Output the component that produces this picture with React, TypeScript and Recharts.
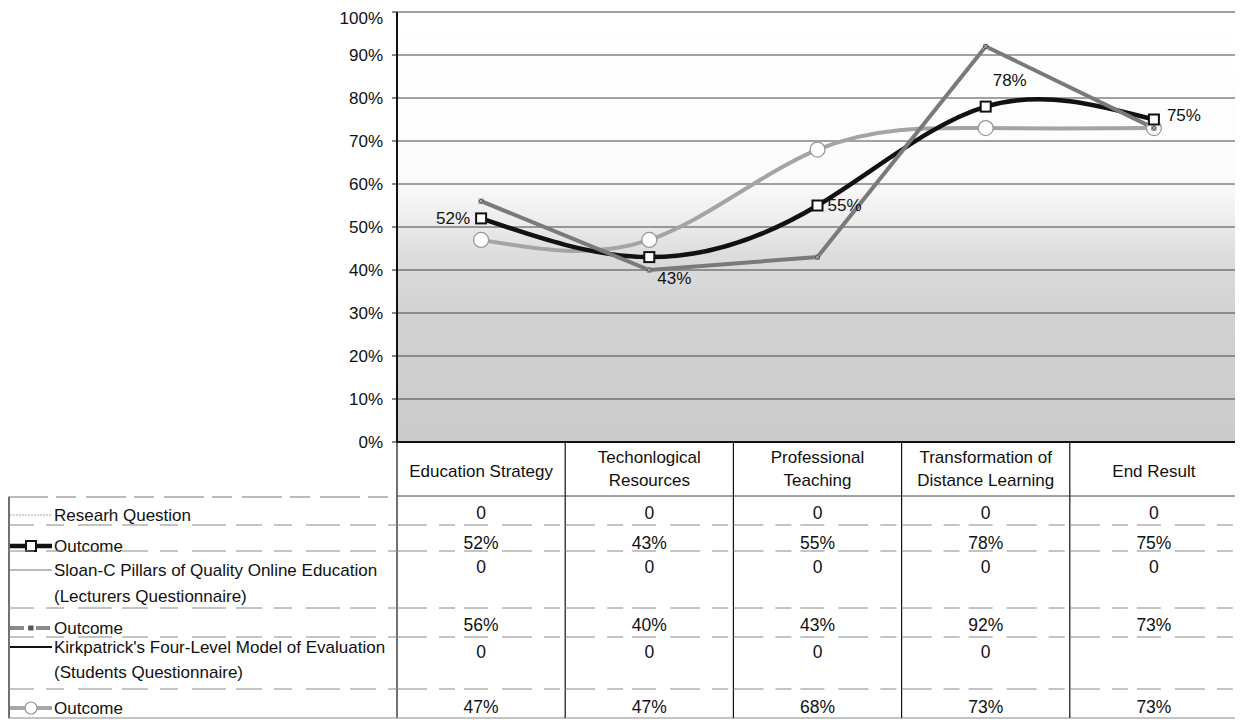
import React from "react";
import { LineChart, Line, XAxis, YAxis, CartesianGrid, LabelList } from "recharts";

// ---------- data ----------
const categories = [
  "Education Strategy",
  "Techonlogical Resources",
  "Professional Teaching",
  "Transformation of Distance Learning",
  "End Result",
];
const categoryHeaderLines = [
  ["Education Strategy"],
  ["Techonlogical", "Resources"],
  ["Professional", "Teaching"],
  ["Transformation of", "Distance Learning"],
  ["End Result"],
];
const researchQuestion = [0, 0, 0, 0, 0];
const outcomeResearch = [0.52, 0.43, 0.55, 0.78, 0.75];
const sloanC = [0, 0, 0, 0, 0];
const outcomeLecturers = [0.56, 0.4, 0.43, 0.92, 0.73];
const kirkpatrick: (number | null)[] = [0, 0, 0, 0, null];
const outcomeStudents = [0.47, 0.47, 0.68, 0.73, 0.73];
const yTicks = [0, 0.1, 0.2, 0.3, 0.4, 0.5, 0.6, 0.7, 0.8, 0.9, 1];

const seriesLabels = {
  rq: ["Researh Question"],
  o1: ["Outcome"],
  sc: ["Sloan-C Pillars of Quality Online Education", "(Lecturers Questionnaire)"],
  o2: ["Outcome"],
  kp: ["Kirkpatrick's Four-Level Model of Evaluation", "(Students Questionnaire)"],
  o3: ["Outcome"],
};

const data = categories.map((name, i) => ({
  name,
  rq: researchQuestion[i],
  o1: outcomeResearch[i],
  sc: sloanC[i],
  o2: outcomeLecturers[i],
  kp: kirkpatrick[i],
  o3: outcomeStudents[i],
}));

// ---------- layout ----------
const FONT = "'Liberation Sans', Arial, Helvetica, sans-serif";
const W = 1235;
const H = 712;
const PLOT_LEFT = 389;
const PLOT_RIGHT = 1230;
const PLOT_TOP = 4;
const PLOT_BOTTOM = 434;
const COL_W = (PLOT_RIGHT - PLOT_LEFT) / categories.length;

const rowDefs = [
  { key: "rq", bottom: 517, valueY: 505, legendY: [507], pct: false },
  { key: "o1", bottom: 543, valueY: 535, legendY: [538], pct: true },
  { key: "sc", bottom: 600, valueY: 559, legendY: [562, 588], pct: false },
  { key: "o2", bottom: 629, valueY: 617, legendY: [620], pct: true },
  { key: "kp", bottom: 681, valueY: 644, legendY: [639, 664], pct: false },
  { key: "o3", bottom: 710, valueY: 699, legendY: [700], pct: true },
];

const fmtPct = (v: number) => `${Math.round(v * 100)}%`;

const LegendSymbol = ({ k, y }: { k: string; y: number }) => {
  const x1 = 2;
  const x2 = 44;
  const mid = (x1 + x2) / 2;
  switch (k) {
    case "rq":
      return <line x1={x1} x2={x2} y1={y} y2={y} stroke="#aaa" strokeWidth={1} strokeDasharray="2 1" />;
    case "o1":
      return (
        <g>
          <line x1={x1} x2={x2} y1={y} y2={y} stroke="#111" strokeWidth={4.5} />
          <rect x={mid - 5} y={y - 5} width={10} height={10} fill="#fff" stroke="#111" strokeWidth={2} />
        </g>
      );
    case "sc":
      return <line x1={x1} x2={x2} y1={y} y2={y} stroke="#777" strokeWidth={1.2} />;
    case "o2":
      return (
        <g>
          <line x1={x1} x2={x2} y1={y} y2={y} stroke="#8a8a8a" strokeWidth={4} strokeDasharray="14 4 4 4" />
          <rect x={mid - 2.5} y={y - 2.5} width={5} height={5} fill="#555" />
        </g>
      );
    case "kp":
      return <line x1={x1} x2={x2} y1={y} y2={y} stroke="#111" strokeWidth={1.8} />;
    case "o3":
      return (
        <g>
          <line x1={x1} x2={x2} y1={y} y2={y} stroke="#a8a8a8" strokeWidth={4} />
          <circle cx={mid} cy={y} r={6} fill="#fff" stroke="#999" strokeWidth={1.2} />
        </g>
      );
    default:
      return null;
  }
};

const TableColumn = (props: any) => {
  const { x, index } = props;
  const left = x - COL_W / 2;
  const right = x + COL_W / 2;
  const lines = categoryHeaderLines[index] || [String(props.payload?.value)];
  const isLast = index === categories.length - 1;
  const headStyle = { fontFamily: FONT, fontSize: 17, fill: "#111" } as any;
  const valStyle = { fontFamily: FONT, fontSize: 17.5, fill: "#111" } as any;
  const legStyle = { fontFamily: FONT, fontSize: 17, fill: "#111" } as any;
  return (
    <g>
      <line x1={left} x2={left} y1={PLOT_BOTTOM} y2={710} stroke="#111" strokeWidth={1.2} />
      {isLast && <line x1={right} x2={right} y1={PLOT_TOP} y2={710} stroke="#333" strokeWidth={1.2} />}
      {lines.length === 1 ? (
        <text x={x} y={463} textAnchor="middle" dominantBaseline="central" style={headStyle}>
          {lines[0]}
        </text>
      ) : (
        lines.map((l: string, i: number) => (
          <text key={i} x={x} y={449 + i * 23} textAnchor="middle" dominantBaseline="central" style={headStyle}>
            {l}
          </text>
        ))
      )}
      <line x1={left} x2={right} y1={488} y2={488} stroke="#444" strokeWidth={1} />
      {rowDefs.map((r) => {
        const v = (data[index] as any)[r.key];
        return (
          <g key={r.key}>
            {v !== null && v !== undefined && (
              <text x={x} y={r.valueY} textAnchor="middle" dominantBaseline="central" style={valStyle}>
                {r.pct ? fmtPct(v) : String(v)}
              </text>
            )}
            <line
              x1={left}
              x2={right}
              y1={r.bottom}
              y2={r.bottom}
              stroke="#888"
              strokeWidth={1}
              strokeDasharray={r.key === "o3" ? undefined : "30 12 16 9 24 14"}
            />
          </g>
        );
      })}
      {index === 0 && (
        <g>
          <line x1={1} x2={1} y1={489} y2={710} stroke="#111" strokeWidth={1.2} />
          <line x1={0} x2={left} y1={489} y2={489} stroke="#777" strokeWidth={1} strokeDasharray="40 8 20 10" />
          {rowDefs.map((r) => (
            <g key={r.key}>
              <LegendSymbol k={r.key} y={r.legendY[0]} />
              {(seriesLabels as any)[r.key].map((l: string, i: number) => (
                <text key={i} x={46} y={r.legendY[i]} dominantBaseline="central" style={legStyle}>
                  {l}
                </text>
              ))}
              <line
                x1={0}
                x2={left}
                y1={r.bottom}
                y2={r.bottom}
                stroke="#888"
                strokeWidth={1}
                strokeDasharray={r.key === "o3" ? undefined : "26 12 18 14 34 10"}
              />
            </g>
          ))}
        </g>
      )}
    </g>
  );
};

const SquareDot = (props: any) => {
  const { cx, cy, index } = props;
  if (cx == null || cy == null) return <g key={`sq-${index}`} />;
  return <rect key={`sq-${index}`} x={cx - 5} y={cy - 5} width={10} height={10} fill="#fff" stroke="#111" strokeWidth={2} />;
};
const XDot = (props: any) => {
  const { cx, cy, index } = props;
  if (cx == null || cy == null) return <g key={`x-${index}`} />;
  return (
    <g key={`x-${index}`}>
      <rect x={cx - 2.5} y={cy - 2.5} width={5} height={5} fill="#555" />
      <line x1={cx - 2.5} x2={cx + 2.5} y1={cy - 2.5} y2={cy + 2.5} stroke="#ddd" strokeWidth={0.8} />
      <line x1={cx - 2.5} x2={cx + 2.5} y1={cy + 2.5} y2={cy - 2.5} stroke="#ddd" strokeWidth={0.8} />
    </g>
  );
};
const CircleDot = (props: any) => {
  const { cx, cy, index } = props;
  if (cx == null || cy == null) return <g key={`c-${index}`} />;
  return <circle key={`c-${index}`} cx={cx} cy={cy} r={7.5} fill="#fff" stroke="#999" strokeWidth={1.3} />;
};

const OutcomeLabel = (props: any) => {
  const { x, y, index, value } = props;
  let tx = x;
  let ty = y;
  let anchor: any = "start";
  switch (index) {
    case 0:
      tx = x - 11; ty = y; anchor = "end"; break;
    case 1:
      tx = x + 8; ty = y + 21; anchor = "start"; break;
    case 2:
      tx = x + 10; ty = y; anchor = "start"; break;
    case 3:
      tx = x + 24; ty = y - 26; anchor = "middle"; break;
    default:
      tx = x + 13; ty = y - 4; anchor = "start";
  }
  return (
    <text x={tx} y={ty} textAnchor={anchor} dominantBaseline="central" style={{ fontFamily: FONT, fontSize: 17, fill: "#111" }}>
      {fmtPct(value)}
    </text>
  );
};

export default function App() {
  return (
    <div style={{ width: W, height: H, fontFamily: FONT }}>
      <LineChart width={W} height={H} data={data} margin={{ top: PLOT_TOP, right: W - PLOT_RIGHT, bottom: 2, left: PLOT_LEFT - 60 }}>
        <defs>
          <linearGradient id="bgGrad" x1="0" y1="0" x2="0" y2="1">
            <stop offset="0" stopColor="#ffffff" />
            <stop offset="0.38" stopColor="#fcfcfc" />
            <stop offset="0.48" stopColor="#eeeeee" />
            <stop offset="0.56" stopColor="#dddddd" />
            <stop offset="0.7" stopColor="#d2d2d2" />
            <stop offset="1" stopColor="#cbcbcb" />
          </linearGradient>
        </defs>
        <CartesianGrid vertical={false} horizontal={true} stroke="#444" strokeWidth={1} fill="url(#bgGrad)" fillOpacity={1} />
        <XAxis
          dataKey="name"
          interval={0}
          padding={{ left: COL_W / 2, right: COL_W / 2 }}
          height={276}
          tickLine={false}
          tickSize={0}
          tickMargin={0}
          axisLine={{ stroke: "#111", strokeWidth: 2 }}
          tick={<TableColumn />}
        />
        <YAxis
          domain={[0, 1]}
          ticks={yTicks}
          width={60}
          tickFormatter={fmtPct}
          tickSize={5}
          tickMargin={9}
          axisLine={{ stroke: "#111", strokeWidth: 2 }}
          tickLine={{ stroke: "#111" }}
          tick={{ fontFamily: FONT, fontSize: 17, fill: "#111" }}
        />
        <Line dataKey="rq" stroke="#aaa" strokeWidth={1} dot={false} isAnimationActive={false} />
        <Line dataKey="sc" stroke="#777" strokeWidth={1} dot={false} isAnimationActive={false} />
        <Line dataKey="kp" stroke="#111" strokeWidth={1.5} dot={false} isAnimationActive={false} />
        <Line type="natural" dataKey="o3" stroke="#a4a4a4" strokeWidth={4} dot={<CircleDot />} isAnimationActive={false} />
        <Line type="natural" dataKey="o1" stroke="#111" strokeWidth={4.5} dot={<SquareDot />} isAnimationActive={false}>
          <LabelList dataKey="o1" content={<OutcomeLabel />} />
        </Line>
        <Line type="linear" dataKey="o2" stroke="#7a7a7a" strokeWidth={4} dot={<XDot />} isAnimationActive={false} />
      </LineChart>
    </div>
  );
}
